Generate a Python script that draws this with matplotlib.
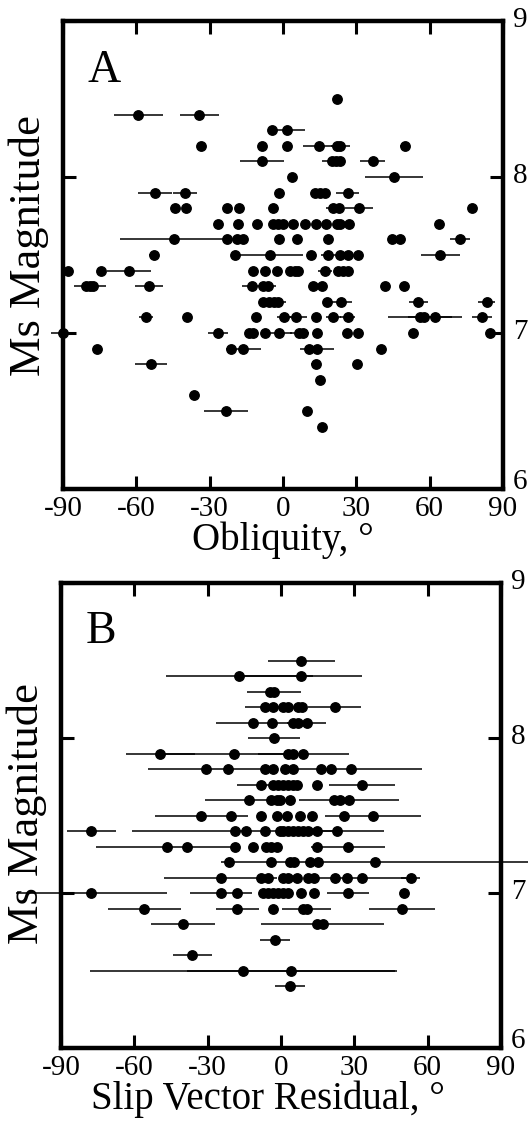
import matplotlib
matplotlib.use('Agg')
import matplotlib.pyplot as plt
from matplotlib.transforms import ScaledTranslation

plt.rcParams['font.family'] = ['Liberation Serif', 'DejaVu Serif']
plt.rcParams['axes.unicode_minus'] = False

# Panel A: obliquity vs Ms magnitude (x, magnitude, half-width of bar)
obl_x = [22,
         -59.2, -34.3,
         -4.4, 1.5,
         -33.6, -8.7, 1.8, 14.9, 22, 23.5, 49.9,
         -8.5, 20, 21.7, 23.3, 36.7,
         3.8, 45.4,
         -52.4, -40.1, -1.5, 13.1, 15.1, 17.2, 26.5,
         -44.2, -39.8, -22.8, -17.9, -4, 20.6, 23, 31.1, 77.5,
         -26.5, -18.3, -10.8, -4, -1.9, 0, 4.2, 9, 13.5, 17.6, 22.2, 23.3, 27.1, 63.9,
         -44.5, -22.8, -19, -16.2, -1.5, 5.6, 18.6, 44.5, 47.9, 72.4,
         -52.8, -19.6, -5.3, 11.3, 18.6, 23.3, 26.7, 30.8, 64.3,
         -88.1, -74.5, -62.9, -12.2, -7.4, -2.6, 2.9, 4.9, 6.3, 17.2, 22.6, 24.7, 26.7,
         -80.4, -79, -77.6, -54.7, -12.8, -8.3, -6, 12.4, 15.8, 41.7, 49.5,
         -8.1, -5.8, -3.8, -1.9, 17.9, 23.7, 55.4, 83.4,
         -56.1, -39.4, -11, 0.4, 5.3, 13.5, 20.6, 26.5, 56, 57.7, 62.2, 81.3,
         -90, -26.5, -13.8, -12.2, -7.4, -1.5, 6.7, 8.1, 14, 26.3, 30.8, 53.1, 84.7,
         -76, -21.4, -16.2, 10.8, 13.8, 40,
         -54, 13.4, 30.4,
         15.1,
         -36.3,
         -23.5, 9.7,
         15.8]
obl_mag = ([8.5] + [8.4] * 2 + [8.3] * 2 + [8.2] * 7 + [8.1] * 5 + [8.0] * 2
           + [7.9] * 7 + [7.8] * 9 + [7.7] * 14 + [7.6] * 10 + [7.5] * 9
           + [7.4] * 13 + [7.3] * 11 + [7.2] * 8 + [7.1] * 12 + [7.0] * 13
           + [6.9] * 6 + [6.8] * 3 + [6.7] + [6.6] + [6.5] * 2 + [6.4])
obl_err = [0,
           10, 8,
           0, 7.5,
           0, 0, 0, 6.6, 0, 4, 2,
           9, 4, 0, 0, 5,
           0, 12,
           7, 5, 0, 0, 0, 0, 4.7,
           0, 0, 0, 0, 1.6, 3, 0, 5.8, 0,
           0, 0, 0, 0, 0, 0, 0, 0, 0, 0, 0, 0, 0, 0,
           22, 0, 0, 0, 0, 0, 0, 0, 0, 4,
           2, 0, 13.5, 0, 3, 0, 0, 0, 8,
           0, 0, 9, 0, 0, 0, 0, 0, 0, 3, 0, 0, 0,
           0, 6.5, 0, 5.7, 4, 0, 3, 0, 0, 0, 0,
           0, 0, 0, 3, 0, 4.5, 4, 3.5,
           3, 0, 0, 3, 4.5, 0, 3, 3, 13, 0, 11, 4,
           5, 4, 0, 0, 0, 5, 4, 0, 0, 0, 0, 0, 0,
           0, 0, 7, 0, 7, 0,
           6.5, 2, 0,
           0,
           0,
           9, 0,
           0]

# Panel B: slip vector residual vs Ms magnitude
svr_x = [8.2,
         -17.1, 8.1,
         -4.5, -3,
         -6.6, -3.2, 1, 3, 7, 8.5, 21.9,
         -11.4, -3.5, 5.1, 6.8, 10.5,
         -2.8,
         -49.3, -19.2, 2.7, 5.1, 9.2,
         -30.6, -21.7, -6.6, -3.2, 1.6, 5.1, 16.4, 20.5, 28.8,
         -8.2, -3.2, -1.1, 0.9, 3, 5.1, 6.4, 14.6, 33.1,
         -13.2, -3.9, -1.8, -0.4, 3.7, 21.5, 24.2, 27.7,
         -32.6, -20.3, -8.2, -1.8, 2.3, 7.8, 12.6, 25.6, 37.5,
         -77.6, -18.9, -14.5, -6.6, -0.4, 1, 3, 5.1, 7.1, 9.2, 11.2, 14.6, 23.1,
         -46.6, -38.4, -18.9, -11.4, -6.2, -3.9, -1.5, 14.6, 27.4,
         -21.4, -3.9, 3.7, 5.5, 11.9, 15, 38.6,
         -24.7, -8.2, -5.2, 0.9, 3, 6.4, 10.9, 13.3, 21.9, 27, 33.1, 53,
         -77.6, -24.7, -18, -7.3, -5.2, -3.2, -1.1, 1, 3, 8.2, 13.7, 27.4, 50.3,
         -55.9, -17.8, -3.2, 9.2, 10.5, 49.6,
         -40.2, 14.6, 17,
         -2.5,
         -36.3,
         -15.5, 4.1,
         3.7]
svr_mag = ([8.5] + [8.4] * 2 + [8.3] * 2 + [8.2] * 7 + [8.1] * 5 + [8.0]
           + [7.9] * 5 + [7.8] * 9 + [7.7] * 9 + [7.6] * 8 + [7.5] * 9
           + [7.4] * 13 + [7.3] * 9 + [7.2] * 7 + [7.1] * 12 + [7.0] * 13
           + [6.9] * 6 + [6.8] * 3 + [6.7] + [6.6] + [6.5] * 2 + [6.4])
svr_err = [13.7,
           30, 25,
           0, 11,
           8, 0, 0, 0, 0, 0, 11,
           15, 0, 0, 0, 8,
           10.5,
           14, 30, 0, 0, 18.5,
           24, 0, 0, 0, 0, 0, 0, 0, 29,
           9.6, 0, 0, 0, 0, 0, 0, 0, 13.4,
           18, 0, 0, 0, 0, 0, 0, 20.5,
           19, 0, 0, 0, 0, 0, 0, 0, 19.6,
           10, 42, 0, 0, 0, 0, 0, 0, 0, 0, 0, 0, 19,
           29, 0, 0, 0, 0, 0, 0, 0, 15,
           0, 0, 0, 0, 0, 0, 63,
           23, 0, 0, 0, 0, 0, 0, 0, 0, 0, 18, 4,
           31, 12.7, 0, 0, 0, 0, 0, 0, 0, 0, 0, 8.5, 0,
           15, 8.7, 0, 0, 10, 13.4,
           13, 0, 25,
           6,
           8,
           62.8, 42.5,
           6]

x_ticks = [-90, -60, -30, 0, 30, 60, 90]
y_ticks = [6, 7, 8, 9]


def draw_panel(ax, x, mag, err, letter, xlabel, ylab_y, xlab_x):
    eb = ax.errorbar(x, mag, xerr=err, fmt='o', color='black', ms=6.8,
                     elinewidth=1.1, capsize=0)
    eb[0].set_clip_on(False)
    for lc in eb[2]:
        lc.set_clip_on(False)
    ax.set_xlim(-90, 90)
    ax.set_ylim(6, 9)
    ax.set_xticks(x_ticks)
    ax.set_xticklabels([str(t) for t in x_ticks])
    ax.set_yticks(y_ticks)
    ax.set_yticklabels([str(t) for t in y_ticks])
    ax.tick_params(axis='x', direction='in', top=True, length=9.5, width=2.2,
                   labelsize=21, pad=5)
    ax.tick_params(axis='y', direction='in', left=True, right=True,
                   labelleft=False, labelright=True, length=9.5, width=2.2,
                   labelsize=21, pad=7)
    # right-hand magnitude labels sit a little high in the original
    for t, lab in zip(y_ticks, ax.get_yticklabels()):
        dy = 7 if t == 6 else 3
        lab.set_transform(lab.get_transform() +
                          ScaledTranslation(0, dy / 72, ax.figure.dpi_scale_trans))
    for s in ax.spines.values():
        s.set_linewidth(3.2)
    ax.set_ylabel('Ms Magnitude', fontsize=32, labelpad=10)
    ax.yaxis.label.set_y(ylab_y)
    ax.set_xlabel(xlabel, fontsize=28, labelpad=0)
    ax.xaxis.label.set_x(xlab_x)
    ax.text(0.055, 0.94, letter, transform=ax.transAxes, fontsize=33,
            va='top', ha='left')


fig = plt.figure(figsize=(5.28, 11.33), dpi=100)
ax_a = fig.add_axes([63 / 528, 1 - 489 / 1133, 440 / 528, 468 / 1133])
ax_b = fig.add_axes([61 / 528, 1 - 1048 / 1133, 440 / 528, 465 / 1133])

draw_panel(ax_a, obl_x, obl_mag, obl_err, 'A', 'Obliquity, °', 0.52, 0.5)
draw_panel(ax_b, svr_x, svr_mag, svr_err, 'B', 'Slip Vector Residual, °', 0.505, 0.47)

fig.savefig('out.png', dpi=100)
